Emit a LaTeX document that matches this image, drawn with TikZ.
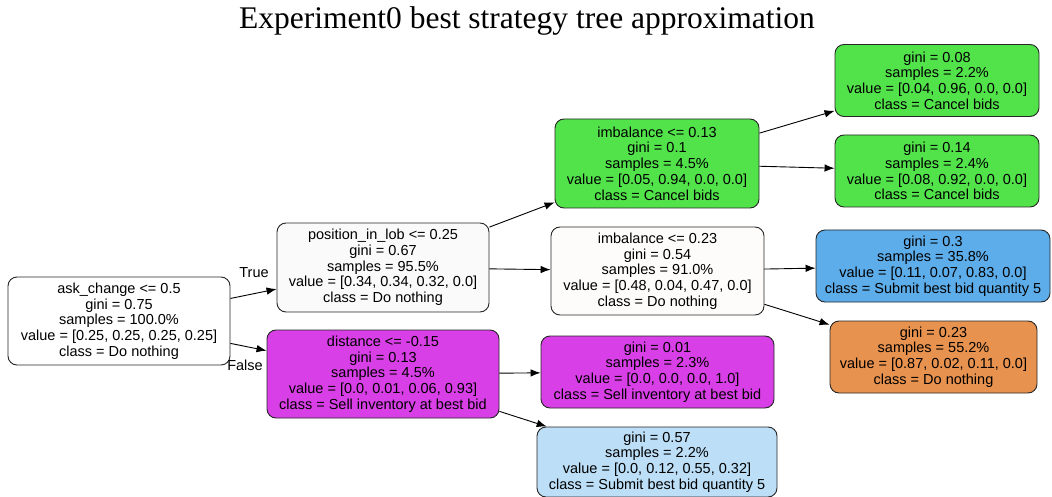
\documentclass[tikz,border=0pt]{standalone}
\usepackage{fontspec}
\setmainfont{Liberation Serif}
\newfontfamily\dotfont{Liberation Sans}
\usetikzlibrary{arrows.meta,positioning}
\definecolor{cancelgreen}{HTML}{52E34B}
\definecolor{sellmagenta}{HTML}{D83FE6}
\definecolor{submitblue}{HTML}{5DADEA}
\definecolor{paleblue}{HTML}{BCDEF7}
\definecolor{nothingorange}{HTML}{E8924F}
\definecolor{nothingpale}{HTML}{FEFCFA}
\tikzset{
  treenode/.style={draw=black!85, line width=0.9pt, rounded corners=9pt, align=center, inner xsep=4pt, inner ysep=2pt,
    font=\dotfont\fontsize{14.5}{15.7}\selectfont, minimum height=72pt},
  splitnode/.style={treenode, minimum height=88pt},
  edgelbl/.style={font=\dotfont\fontsize{14.5}{15}\selectfont}
}

\begin{document}
\begin{tikzpicture}[x=1pt, y=-1pt, >={Latex[length=10pt,width=7.5pt]}]
\useasboundingbox (0,0) rectangle (1052,497);
\node[font=\fontsize{31.5}{34}\selectfont] (title) at (527,21) {Experiment0 best strategy tree approximation};
% split nodes
\node[splitnode, fill=white, minimum width=222pt] (root) at (119,321)
  {ask\_change <= 0.5\\gini = 0.75\\samples = 100.0\%\\value = [0.25, 0.25, 0.25, 0.25]\\class = Do nothing};
\node[splitnode, fill=white!98!black, minimum width=212pt, minimum height=89pt] (pos) at (383,267.5)
  {position\_in\_lob <= 0.25\\gini = 0.67\\samples = 95.5\%\\value = [0.34, 0.34, 0.32, 0.0]\\class = Do nothing};
\node[splitnode, fill=sellmagenta, minimum width=232pt] (dist) at (383,374)
  {distance <= -0.15\\gini = 0.13\\samples = 4.5\%\\value = [0.0, 0.01, 0.06, 0.93]\\class = Sell inventory at best bid};
\node[splitnode, fill=cancelgreen, minimum width=204pt, minimum height=89pt] (imbA) at (657,163.5)
  {imbalance <= 0.13\\gini = 0.1\\samples = 4.5\%\\value = [0.05, 0.94, 0.0, 0.0]\\class = Cancel bids};
\node[splitnode, fill=nothingpale, minimum width=213pt] (imbB) at (657.5,271)
  {imbalance <= 0.23\\gini = 0.54\\samples = 91.0\%\\value = [0.48, 0.04, 0.47, 0.0]\\class = Do nothing};
% leaves
\node[treenode, fill=cancelgreen, minimum width=204pt] (leafA) at (937,80.5)
  {gini = 0.08\\samples = 2.2\%\\value = [0.04, 0.96, 0.0, 0.0]\\class = Cancel bids};
\node[treenode, fill=cancelgreen, minimum width=204pt] (leafB) at (937,171)
  {gini = 0.14\\samples = 2.4\%\\value = [0.08, 0.92, 0.0, 0.0]\\class = Cancel bids};
\node[treenode, fill=submitblue, minimum width=234pt] (leafC) at (933,266)
  {gini = 0.3\\samples = 35.8\%\\value = [0.11, 0.07, 0.83, 0.0]\\class = Submit best bid quantity 5};
\node[treenode, fill=nothingorange, minimum width=207pt] (leafD) at (933.5,357)
  {gini = 0.23\\samples = 55.2\%\\value = [0.87, 0.02, 0.11, 0.0]\\class = Do nothing};
\node[treenode, fill=sellmagenta, minimum width=233pt] (leafE) at (657.5,372)
  {gini = 0.01\\samples = 2.3\%\\value = [0.0, 0.0, 0.0, 1.0]\\class = Sell inventory at best bid};
\node[treenode, fill=paleblue, minimum width=240pt, minimum height=70pt] (leafF) at (657,462)
  {gini = 0.57\\samples = 2.2\%\\value = [0.0, 0.12, 0.55, 0.32]\\class = Submit best bid quantity 5};
% edges
\draw[->, line width=0.9pt] (root) -- (pos);
\draw[->, line width=0.9pt] (root) -- (dist);
\node[edgelbl] (truelbl) at (254,273) {True};
\node[edgelbl] (falselbl) at (245,365) {False};
\draw[->, line width=0.9pt] (pos) -- (imbA);
\draw[->, line width=0.9pt] (pos) -- (imbB);
\draw[->, line width=0.9pt] (dist) -- (leafE);
\draw[->, line width=0.9pt] (dist) -- (leafF);
\draw[->, line width=0.9pt] (imbA) -- (leafA);
\draw[->, line width=0.9pt] (imbA) -- (leafB);
\draw[->, line width=0.9pt] (imbB) -- (leafC);
\draw[->, line width=0.9pt] (imbB) -- (leafD);
\end{tikzpicture}
\end{document}
